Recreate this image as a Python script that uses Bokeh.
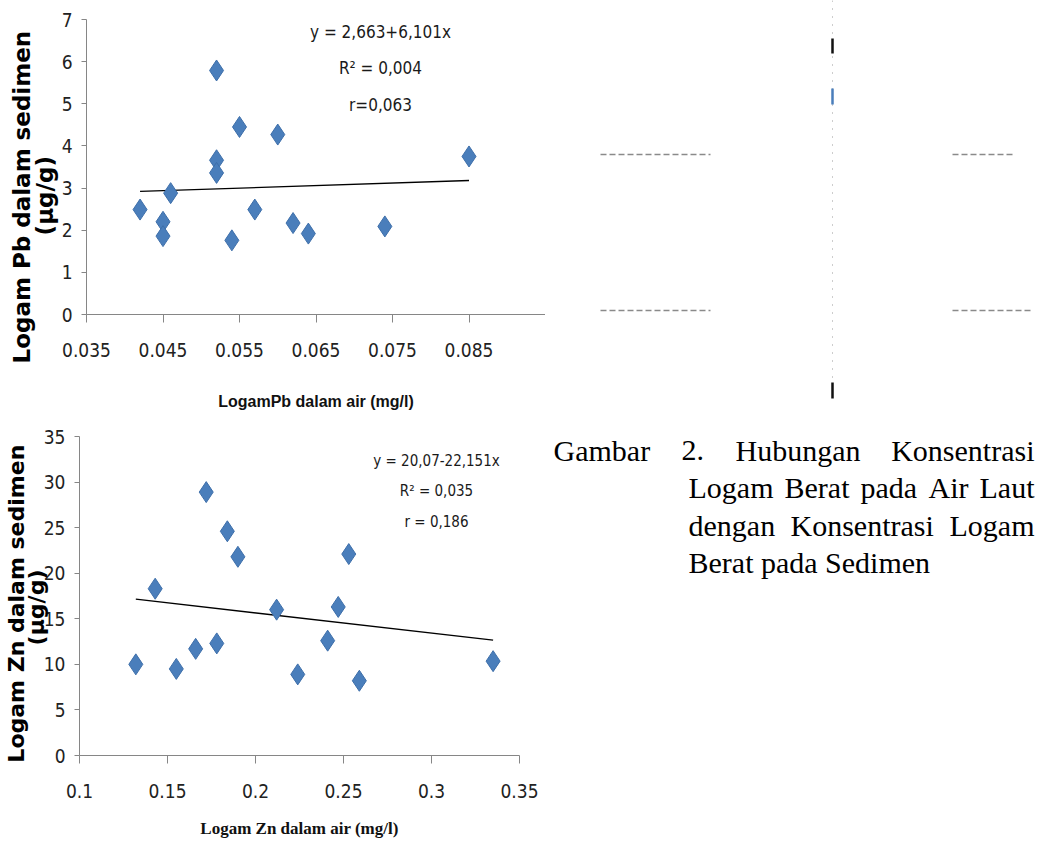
from bokeh.plotting import figure
from bokeh.models import Range1d, FixedTicker, Label, Title
from bokeh.layouts import row, column
from bokeh.embed import file_html
from bokeh.resources import INLINE
from bokeh.core.properties import value

# ---------------- data: Pb ----------------
pb_air = [0.042, 0.045, 0.045, 0.046, 0.052, 0.052, 0.052, 0.055, 0.054, 0.057, 0.060, 0.062, 0.064, 0.074, 0.085]
pb_sed = [2.49, 2.20, 1.86, 2.88, 5.79, 3.66, 3.36, 4.45, 1.76, 2.49, 4.27, 2.17, 1.92, 2.09, 3.75]
pb_trend_x = [0.042, 0.085]
pb_trend_y = [2.92, 3.18]
pb_xticks = [0.035, 0.045, 0.055, 0.065, 0.075, 0.085, 0.095]
pb_xtick_labels = ["0.035", "0.045", "0.055", "0.065", "0.075", "0.085", ""]  # last one is cut off in the source
pb_yticks = [0, 1, 2, 3, 4, 5, 6, 7]
pb_stats = ["y = 2,663+6,101x", "R\u00b2 = 0,004", "r=0,063"]
pb_ytitle = ["Logam Pb dalam sedimen", "(\u00b5g/g)"]
pb_xtitle = "LogamPb dalam air (mg/l)"

# ---------------- data: Zn ----------------
zn_air = [0.132, 0.143, 0.155, 0.166, 0.172, 0.178, 0.184, 0.190, 0.212, 0.224, 0.241, 0.247, 0.253, 0.259, 0.335]
zn_sed = [10.0, 18.3, 9.5, 11.7, 28.9, 12.3, 24.6, 21.8, 16.0, 8.9, 12.6, 16.3, 22.1, 8.2, 10.35]
zn_trend_x = [0.132, 0.335]
zn_trend_y = [17.15, 12.65]
zn_xticks = [0.1, 0.15, 0.2, 0.25, 0.3, 0.35]
zn_xtick_labels = ["0.1", "0.15", "0.2", "0.25", "0.3", "0.35"]
zn_yticks = [0, 5, 10, 15, 20, 25, 30, 35]
zn_stats = ["y = 20,07-22,151x", "R\u00b2 = 0,035", "r = 0,186"]
zn_ytitle = ["Logam Zn dalam sedimen", "(\u00b5g/g)"]
zn_xtitle = "Logam Zn dalam air (mg/l)"

# ---------------- caption ----------------
caption_l1 = ["Gambar", "2.", "Hubungan", "Konsentrasi"]
caption_l2 = ["Logam", "Berat", "pada", "Air", "Laut"]
caption_l3 = ["dengan", "Konsentrasi", "Logam"]
caption_l4 = "Berat pada Sedimen"

MARK = "#4A7EBB"
AXIS = "#868686"
COND = "DejaVu Sans Condensed, Liberation Sans"
NB = "\u00a0"


def bare(p):
    p.axis.visible = False
    p.xgrid.visible = False
    p.ygrid.visible = False
    p.outline_line_color = None


def style(p, xticks, xlabels, yticks, xtitle, xtitle_font, xtitle_size, xlab_standoff, xtitle_standoff):
    p.outline_line_color = None
    p.xgrid.visible = False
    p.ygrid.visible = False
    p.xaxis.ticker = FixedTicker(ticks=xticks)
    p.xaxis.major_label_overrides = {t: l for t, l in zip(xticks, xlabels)}
    p.yaxis.ticker = FixedTicker(ticks=yticks)
    for ax in (p.xaxis[0], p.yaxis[0]):
        ax.axis_line_color = AXIS
        ax.major_tick_line_color = AXIS
        ax.minor_tick_line_color = None
        ax.major_tick_in = 0
        ax.major_label_text_font = COND
        ax.major_label_text_font_size = "19px"
        ax.major_label_text_color = "#222222"
    p.xaxis.major_tick_out = 8
    p.yaxis.major_tick_out = 5
    p.xaxis.major_label_standoff = xlab_standoff
    p.yaxis.major_label_standoff = 9
    p.xaxis.axis_label = xtitle
    p.xaxis.axis_label_text_font = xtitle_font
    p.xaxis.axis_label_text_font_size = xtitle_size
    p.xaxis.axis_label_text_font_style = "bold"
    p.xaxis.axis_label_text_color = "#111111"
    p.xaxis.axis_label_standoff = xtitle_standoff


def add_stats(p, lines, x, ys, size):
    for t, y in zip(lines, ys):
        p.add_layout(Label(x=x, y=y, x_units="screen", y_units="screen", text=t,
                           text_font=COND, text_font_size=size, text_color="#1a1a1a",
                           text_align="center", text_baseline="middle"))


# ---------------- top chart (Pb) ----------------
p1 = figure(width=545, height=420, x_range=Range1d(0.035, 0.095), y_range=Range1d(0, 7),
            output_backend="svg", toolbar_location=None,
            min_border_left=86, min_border_right=0, min_border_top=19, min_border_bottom=106)
style(p1, pb_xticks, pb_xtick_labels, pb_yticks, pb_xtitle, "Liberation Sans", "16px", 20, 33)
# two-line vertical title; the units line is indented so both lines share one centre
p1.add_layout(Title(text=pb_ytitle[0] + "\n" + NB * 16 + pb_ytitle[1], align="left", offset=-49, standoff=1,
                    text_font="DejaVu Sans", text_font_style="bold", text_color="#000000",
                    text_font_size="23px", text_line_height=0.9), "left")
p1.line(pb_trend_x, pb_trend_y, line_color="#000000", line_width=1.3)
p1.scatter(pb_air, pb_sed, marker="diamond", size=21, fill_color=MARK, line_color="#3E6FAA", line_width=1)
add_stats(p1, pb_stats, 294, [283, 247, 210], "17px")

# ---------------- bottom chart (Zn) ----------------
p2 = figure(width=545, height=420, x_range=Range1d(0.1, 0.35), y_range=Range1d(0, 35),
            output_backend="svg", toolbar_location=None,
            min_border_left=77, min_border_right=26, min_border_top=16, min_border_bottom=85)
style(p2, zn_xticks, zn_xtick_labels, zn_yticks, zn_xtitle, "Liberation Serif", "17px", 20, 18)
# two-line y title; trailing non-breaking spaces move the visible text slightly below the frame centre
p2.yaxis.axis_label = "\n".join(t + NB * n for t, n in zip(zn_ytitle, [2, 3]))
p2.yaxis.axis_label_text_font = "DejaVu Sans"
p2.yaxis.axis_label_text_font_style = "bold"
p2.yaxis.axis_label_text_font_size = "22px"
p2.yaxis.axis_label_text_color = "#000000"
p2.yaxis.axis_label_text_line_height = 0.8
p2.yaxis.axis_label_standoff = -8
p2.line(zn_trend_x, zn_trend_y, line_color="#000000", line_width=1.3)
p2.scatter(zn_air, zn_sed, marker="diamond", size=21, fill_color=MARK, line_color="#3E6FAA", line_width=1)
add_stats(p2, zn_stats, 357, [295, 265, 234], "15px")

# ---------------- caption panel ----------------
p3 = figure(width=491, height=840, x_range=Range1d(545, 1036), y_range=Range1d(840, 0),
            output_backend="svg", toolbar_location=None,
            min_border_left=0, min_border_right=0, min_border_top=0, min_border_bottom=0)
bare(p3)

# faint scan remnants of the neighbouring figure
p3.segment(x0=[832], y0=[0], x1=[832], y1=[400], line_color="#9a9a9a", line_width=1, line_dash="1 7")
p3.segment(x0=[832, 832], y0=[38, 382], x1=[832, 832], y1=[53, 398], line_color="#111111", line_width=2.5)
p3.segment(x0=[832], y0=[88], x1=[832], y1=[104], line_color=MARK, line_width=2.5)
p3.segment(x0=[952, 952, 600, 600], y0=[154, 310, 154, 310], x1=[1012, 1032, 710, 710], y1=[154, 310, 154, 310],
           line_color="#8a8a8a", line_width=1.5, line_dash="6 3")

serif = value("Liberation Serif")
CAP = dict(text_font=serif, text_font_size="30px", text_color="#000000", text_baseline="alphabetic")
p3.text(x=[553, 681, 735], y=[450] * 3, text=caption_l1[:3], text_align="left", **CAP)
p3.text(x=[1034], y=[450], text=caption_l1[3:], text_align="right", **CAP)
p3.text(x=[688, 784, 860, 928], y=[487] * 4, text=caption_l2[:4], text_align="left", **CAP)
p3.text(x=[1034], y=[487], text=caption_l2[4:], text_align="right", **CAP)
p3.text(x=[688, 790], y=[525] * 2, text=caption_l3[:2], text_align="left", **CAP)
p3.text(x=[1034], y=[525], text=caption_l3[2:], text_align="right", **CAP)
p3.text(x=[688], y=[562], text=[caption_l4], text_align="left", **CAP)

# each chart in its own row so their frames are not forced into alignment
layout = row(column(row(p1), row(p2)), p3)
open("out.html", "w").write(file_html(layout, INLINE))
